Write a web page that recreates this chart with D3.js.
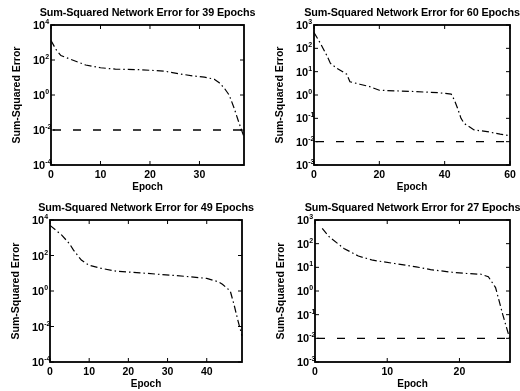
<!DOCTYPE html>
<html>
<head>
<meta charset="utf-8">
<script src="https://cdn.jsdelivr.net/npm/d3@7/dist/d3.min.js"></script>
<style>
  body { margin: 0; background: #fff; }
  svg { display: block; font-family: "Liberation Sans", Arial, sans-serif; filter: grayscale(100%); }
  .lbl { font-weight: bold; fill: #000; }
</style>
</head>
<body>
<div id="chart"></div>
<script>
// epochs and sum-squared error
const titles = ['39', '60', '49', '27'];

const ep1 = [0, 1, 2, 3, 5, 7, 10, 13, 18, 23, 26, 29, 31, 33, 34, 35, 36, 37, 38, 39];
const err1 = [1300, 400, 180, 140, 85, 52, 36, 30, 28, 23, 16, 12, 10.5, 8, 5, 2.5, 1, 0.18, 0.025, 0.004];

const ep2 = [0, 2, 4, 5, 7, 10, 11, 14, 17, 20, 25, 31, 38, 42, 43, 44, 45, 46, 49, 53, 57, 60];
const err2 = [480, 160, 47, 23, 14, 7.8, 3.7, 2.9, 2.3, 1.6, 1.5, 1.4, 1.25, 1.1, 0.6, 0.26, 0.1, 0.06, 0.032, 0.027, 0.021, 0.018];

const ep3 = [0, 3, 5, 6, 8, 10, 13, 17, 23, 27, 32, 36, 40, 43, 44, 46, 47, 48, 49];
const err3 = [5000, 1400, 450, 200, 55, 28, 19, 13, 10.5, 9, 7.4, 6.3, 5.1, 3.3, 2.4, 1.0, 0.16, 0.02, 0.003];

const ep4 = [1, 2, 4, 6, 8, 11, 14, 16, 19, 21, 23, 24, 25, 26, 27];
const err4 = [440, 190, 63, 30, 20, 14.5, 10.5, 8, 6.2, 5.5, 5.1, 4.0, 1.4, 0.1, 0.009];

const xTicks1 = [0, 10, 20, 30];
const xTicks2 = [0, 20, 40, 60];
const xTicks3 = [0, 10, 20, 30, 40];
const xTicks4 = [0, 10, 20];
const yExp1 = [4, 2, 0, -2, -4];
const yExp2 = [3, 2, 1, 0, -1, -2, -3];
const goal = 0.01;

const panels = [
  { ep: ep1, err: err1, xMax: 39, xTicks: xTicks1, yExp: yExp1, goal: true, box: [51, 244, 25, 165] },
  { ep: ep2, err: err2, xMax: 60, xTicks: xTicks2, yExp: yExp2, goal: true, box: [314, 510, 25, 165] },
  { ep: ep3, err: err3, xMax: 49, xTicks: xTicks3, yExp: yExp1, goal: false, box: [50, 242, 220, 362] },
  { ep: ep4, err: err4, xMax: 27, xTicks: xTicks4, yExp: yExp2, goal: true, box: [315, 510, 220, 362] }
];

const svg = d3.select('#chart').append('svg')
  .attr('width', 520)
  .attr('height', 391);

panels.forEach((p, i) => {
  const [x0, x1, y0, y1] = p.box;
  const ext = d3.extent(p.yExp);
  const x = d3.scaleLinear().domain([0, p.xMax]).range([x0, x1]);
  const y = d3.scaleLog().domain([Math.pow(10, ext[0]), Math.pow(10, ext[1])]).range([y1, y0]);
  const g = svg.append('g');

  // box
  g.append('rect')
    .attr('x', x0).attr('y', y0)
    .attr('width', x1 - x0).attr('height', y1 - y0)
    .attr('fill', 'none').attr('stroke', '#000').attr('stroke-width', 1.8);

  // inward ticks
  p.xTicks.forEach(t => {
    g.append('line').attr('x1', x(t)).attr('x2', x(t)).attr('y1', y1).attr('y2', y1 - 4)
      .attr('stroke', '#000').attr('stroke-width', 1);
    g.append('line').attr('x1', x(t)).attr('x2', x(t)).attr('y1', y0).attr('y2', y0 + 4)
      .attr('stroke', '#000').attr('stroke-width', 1);
    g.append('text').attr('class', 'lbl')
      .attr('x', x(t)).attr('y', y1 + 13)
      .attr('text-anchor', 'middle').attr('font-size', 10.5)
      .text(t);
  });

  p.yExp.forEach(e => {
    const yy = y(Math.pow(10, e));
    g.append('line').attr('x1', x0).attr('x2', x0 + 4).attr('y1', yy).attr('y2', yy)
      .attr('stroke', '#000').attr('stroke-width', 1);
    g.append('line').attr('x1', x1).attr('x2', x1 - 4).attr('y1', yy).attr('y2', yy)
      .attr('stroke', '#000').attr('stroke-width', 1);
    const tx = g.append('text').attr('class', 'lbl')
      .attr('x', x0 - 18).attr('y', yy + 4)
      .attr('text-anchor', 'start').attr('font-size', 11);
    tx.append('tspan').text('10');
    tx.append('tspan').attr('dy', -5).attr('font-size', 7).text(e);
  });

  // goal line
  if (p.goal) {
    g.append('line')
      .attr('x1', x0 + 2).attr('x2', x1 - 2)
      .attr('y1', y(goal)).attr('y2', y(goal))
      .attr('stroke', '#000').attr('stroke-width', 1.3)
      .attr('stroke-dasharray', '8,12');
  }

  // error curve
  const line = d3.line()
    .x((d, k) => x(p.ep[k]))
    .y(d => y(d));
  g.append('path')
    .datum(p.err)
    .attr('d', line)
    .attr('fill', 'none')
    .attr('stroke', '#000')
    .attr('stroke-width', 1.2)
    .attr('stroke-dasharray', '7,3,1.5,3');

  // labels
  g.append('text').attr('class', 'lbl')
    .attr('x', (x0 + x1) / 2).attr('y', y0 - 9)
    .attr('text-anchor', 'middle').attr('font-size', 10.8)
    .attr('letter-spacing', -0.1)
    .text('Sum-Squared Network Error for ' + titles[i] + ' Epochs');

  g.append('text').attr('class', 'lbl')
    .attr('x', (x0 + x1) / 2).attr('y', y1 + 25)
    .attr('text-anchor', 'middle').attr('font-size', 10)
    .text('Epoch');

  g.append('text').attr('class', 'lbl')
    .attr('transform', `translate(${x0 - 31},${(y0 + y1) / 2}) rotate(-90)`)
    .attr('text-anchor', 'middle').attr('font-size', 10.5)
    .text('Sum-Squared Error');
});
</script>
</body>
</html>
